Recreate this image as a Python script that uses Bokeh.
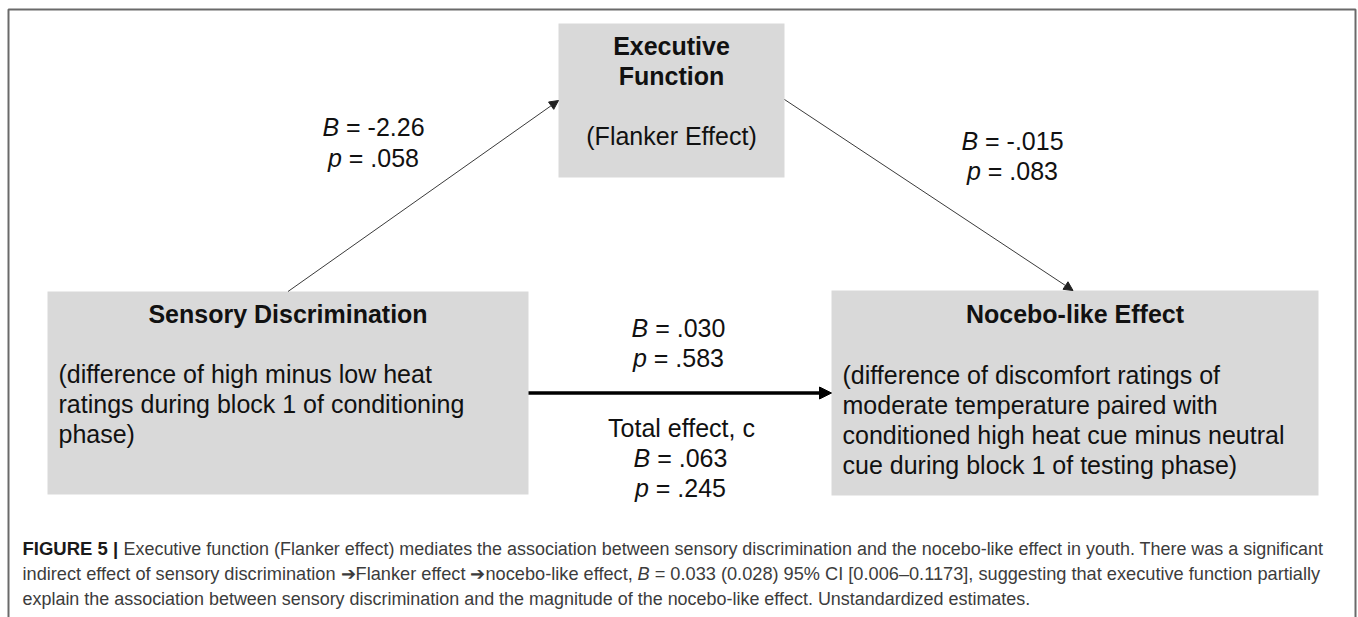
from bokeh.plotting import figure
from bokeh.models import Range1d, Arrow, NormalHead
from bokeh.core.properties import value
from bokeh.embed import file_html
from bokeh.resources import INLINE

# ---------------- data (text content of the mediation diagram) ----------------
mediator_title = ["Executive", "Function"]
mediator_desc = ["(Flanker Effect)"]
predictor_title = ["Sensory Discrimination"]
predictor_desc = ["(difference of high minus low heat",
                  "ratings during block 1 of conditioning",
                  "phase)"]
outcome_title = ["Nocebo-like Effect"]
outcome_desc = ["(difference of discomfort ratings of",
                "moderate temperature paired with",
                "conditioned high heat cue minus neutral",
                "cue during block 1 of testing phase)"]

path_a_B, path_a_p = "-2.26", ".058"
path_b_B, path_b_p = "-.015", ".083"
path_cprime_B, path_cprime_p = ".030", ".583"
total_label = "Total effect, c"
path_c_B, path_c_p = ".063", ".245"

caption_bold = "FIGURE 5 |"
caption_l1 = ("Executive function (Flanker effect) mediates the association between sensory "
              "discrimination and the nocebo-like effect in youth. There was a significant")
caption_l2a = "indirect effect of sensory discrimination \u2794Flanker effect \u2794nocebo-like effect,"
caption_l2b = "B"
caption_l2c = "= 0.033 (0.028) 95% CI [0.006\u20130.1173], suggesting that executive function partially"
caption_l3 = ("explain the association between sensory discrimination and the magnitude of the "
              "nocebo-like effect. Unstandardized estimates.")

# ---------------- layout (pixel-like coordinates, y downwards) ----------------
FONT = "Liberation Sans"
FS = 25          # diagram font size
CFS = 17.95      # caption font size
CFS2 = 18.2      # caption line 2 font size
INK = "#111111"
W, H = 1358, 617

# boxes: mediator, predictor, outcome
box_left = [558, 47, 831]
box_right = [784, 528, 1318]
box_top = [23, 291, 290]
box_bottom = [177, 494, 495]

# Arial / Liberation Sans advance widths (1/1000 em)
AW = {' ': 278, '=': 584, '-': 333, '.': 278, 'B': 667, 'p': 556}
for d in "0123456789":
    AW[d] = 556


def tw(s, size):
    return sum(AW.get(c, 556) for c in s) * size / 1000.0


p = figure(width=W, height=H, x_range=Range1d(0, W), y_range=Range1d(H, 0),
           output_backend="svg", toolbar_location=None, min_border=0,
           x_axis_location=None, y_axis_location=None)
p.xgrid.visible = False
p.ygrid.visible = False
p.outline_line_color = None
p.background_fill_color = "white"
p.border_fill_color = "white"

# outer frame (open at the bottom)
p.line(x=[8, 8, 1355, 1355], y=[H, 9, 9, H], line_color="#6a6a6a", line_width=2)

# boxes
p.quad(left=box_left, right=box_right, top=box_top, bottom=box_bottom,
       fill_color="#d9d9d9", line_color=None)


def txt(x, y, s, size=FS, style="normal", align="center", color=INK):
    p.text(x=[x], y=[y], text=[s], text_font=value(FONT), text_font_size=f"{size}px",
           text_font_style=style, text_align=align, text_baseline="middle", text_color=color)


def coef(cx, y, sym, val, size=FS):
    rest = "= " + val
    total = tw(sym + " " + rest, size)
    x0 = cx - total / 2.0
    txt(x0, y, sym, size, style="italic", align="left")
    txt(x0 + tw(sym + " ", size), y, rest, size, align="left")


# mediator box text
mcx = (box_left[0] + box_right[0]) / 2.0
for i, s in enumerate(mediator_title):
    txt(mcx, 45 + 30 * i, s, style="bold")
txt(mcx, 135, mediator_desc[0])

# predictor box text
pcx = (box_left[1] + box_right[1]) / 2.0
txt(pcx, 313, predictor_title[0], style="bold")
for i, s in enumerate(predictor_desc):
    txt(box_left[1] + 11, 373 + 30 * i, s, align="left")

# outcome box text
ocx = (box_left[2] + box_right[2]) / 2.0
txt(ocx, 313, outcome_title[0], style="bold")
for i, s in enumerate(outcome_desc):
    txt(box_left[2] + 11, 374 + 30 * i, s, align="left")

# path coefficients
coef(373, 126, "B", path_a_B)
coef(373, 157, "p", path_a_p)
coef(1012, 140, "B", path_b_B)
coef(1012, 170, "p", path_b_p)
coef(678, 327, "B", path_cprime_B)
coef(678, 357, "p", path_cprime_p)
txt(681, 427, total_label)
coef(680, 457, "B", path_c_B)
coef(680, 487, "p", path_c_p)

# arrows derived from box geometry
pred_cx = (box_left[1] + box_right[1]) / 2.0
med_cy = (box_top[0] + box_bottom[0]) / 2.0
out_cx = (box_left[2] + box_right[2]) / 2.0 - 2
pred_cy = (box_top[1] + box_bottom[1]) / 2.0

thin_head = dict(size=9, fill_color="#222222", line_color="#222222", line_width=1)
p.add_layout(Arrow(end=NormalHead(**thin_head), x_start=pred_cx, y_start=box_top[1],
                   x_end=box_left[0], y_end=med_cy, line_color="#3a3a3a", line_width=1))
p.add_layout(Arrow(end=NormalHead(**thin_head), x_start=box_right[0], y_start=med_cy - 1,
                   x_end=out_cx, y_end=box_top[2], line_color="#3a3a3a", line_width=1))
p.add_layout(Arrow(end=NormalHead(size=12, fill_color="#000000", line_color="#000000", line_width=1),
                   x_start=box_right[1], y_start=pred_cy, x_end=box_left[2], y_end=pred_cy,
                   line_color="#000000", line_width=3.5))

# caption
CAP = "#3c3c3c"
txt(22, 548, caption_bold, size=18.5, style="bold", align="left", color="#1a1a1a")
txt(123, 548, caption_l1, size=CFS, align="left", color=CAP)
xb = 637
txt(22, 573, caption_l2a, size=CFS2, align="left", color=CAP)
txt(xb, 573, caption_l2b, size=CFS2, style="italic", align="left", color=CAP)
txt(xb + tw("B ", CFS2), 573, caption_l2c, size=CFS2, align="left", color=CAP)
txt(22, 598, caption_l3, size=CFS, align="left", color=CAP)

open("out.html", "w").write(file_html(p, INLINE))
